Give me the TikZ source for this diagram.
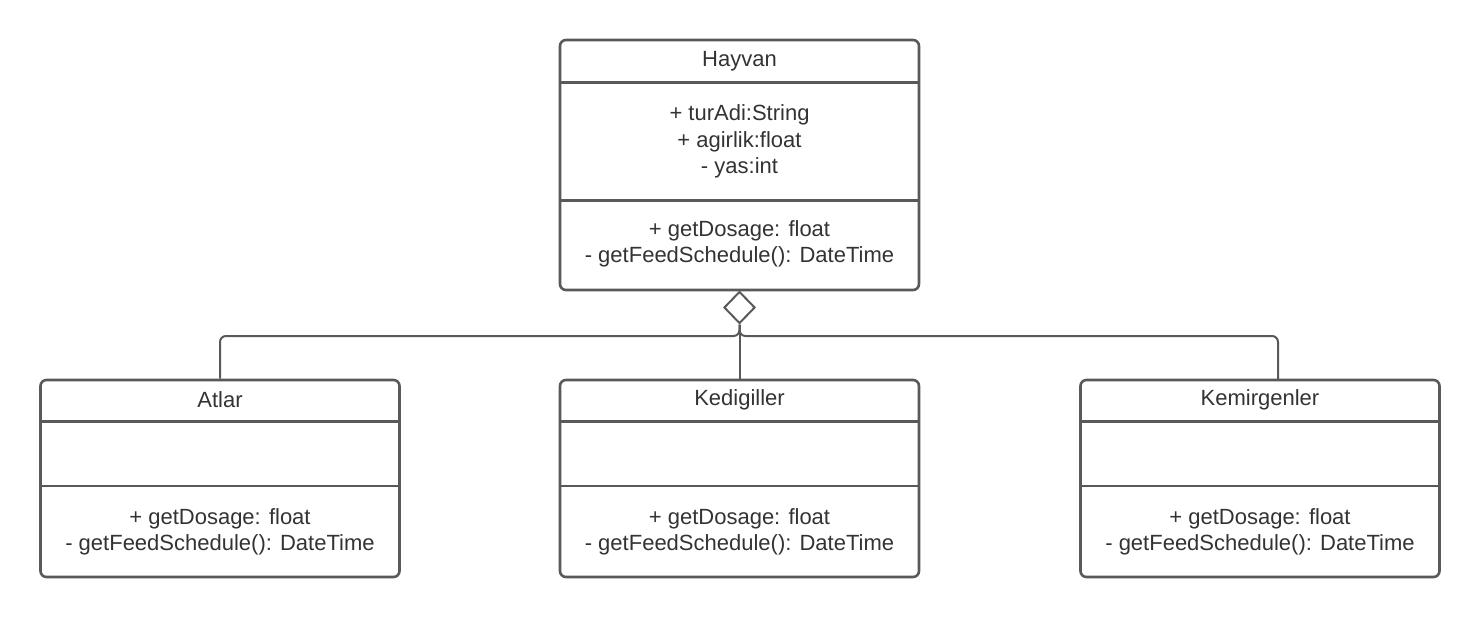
\documentclass[tikz,border=0pt]{standalone}
\usepackage{fontspec}
\setmainfont{Liberation Sans}
\usetikzlibrary{shapes.geometric}
\definecolor{linegray}{HTML}{595959}
\definecolor{textgray}{HTML}{333333}
\begin{document}
\begin{tikzpicture}[x=1pt,y=-1pt,
  classbox/.style={draw=linegray, line width=2.6pt, rounded corners=6pt, inner sep=0pt},
  divider/.style={draw=linegray, line width=2.6pt},
  txt/.style={text=textgray, font=\fontsize{22}{26.5}\selectfont, align=center, inner sep=0pt},
  conn/.style={draw=linegray, line width=2pt, rounded corners=6pt},
  agg/.style={diamond, draw=linegray, line width=2pt, fill=white, minimum width=31pt, minimum height=32pt, inner sep=0pt}
]
\useasboundingbox (0,0) rectangle (1480,618);

% Hayvan
\node[classbox, minimum width=359pt, minimum height=250pt] (hay) at (739.5,165) {};
\draw[divider] (560,82.5) -- (919,82.5);
\draw[divider] (560,200.5) -- (919,200.5);
\node[txt] (hayT) at (739.5,61) {Hayvan};
\node[txt] (hayA) at (739.5,141.5) {+ turAdi:String\\+ agirlik:float\\- yas:int};
\node[txt] (hayM) at (739.5,244) {+ getDosage: float\\- getFeedSchedule(): DateTime};

% Atlar
\node[classbox, minimum width=359pt, minimum height=197pt] (atl) at (220,478.5) {};
\draw[divider] (40.5,421.5) -- (399.5,421.5);
\draw[divider] (40.5,486) -- (399.5,486);
\node[txt] (atlT) at (220,400) {Atlar};
\node[txt] (atlM) at (220,532) {+ getDosage: float\\- getFeedSchedule(): DateTime};

% Kedigiller
\node[classbox, minimum width=359pt, minimum height=197pt] (ked) at (739.5,478.5) {};
\draw[divider] (560,421.5) -- (919,421.5);
\draw[divider] (560,486) -- (919,486);
\node[txt] (kedT) at (739.5,400) {Kedigiller};
\node[txt] (kedM) at (739.5,532) {+ getDosage: float\\- getFeedSchedule(): DateTime};

% Kemirgenler
\node[classbox, minimum width=359pt, minimum height=197pt] (kem) at (1260,478.5) {};
\draw[divider] (1080.5,421.5) -- (1439.5,421.5);
\draw[divider] (1080.5,486) -- (1439.5,486);
\node[txt] (kemT) at (1260,400) {Kemirgenler};
\node[txt] (kemM) at (1260,532) {+ getDosage: float\\- getFeedSchedule(): DateTime};

% connectors
\node[agg] (dia) at (739.5,307.5) {};
\coordinate (kemtop) at (1278,380);
\draw[conn] (atl.north) -- (220,336) -- (739.5,336) -- (dia.south);
\draw[conn] (kemtop) -- (1278,336) -- (739.5,336) -- (dia.south);
\draw[conn] (ked.north) -- (dia.south);
\end{tikzpicture}
\end{document}
